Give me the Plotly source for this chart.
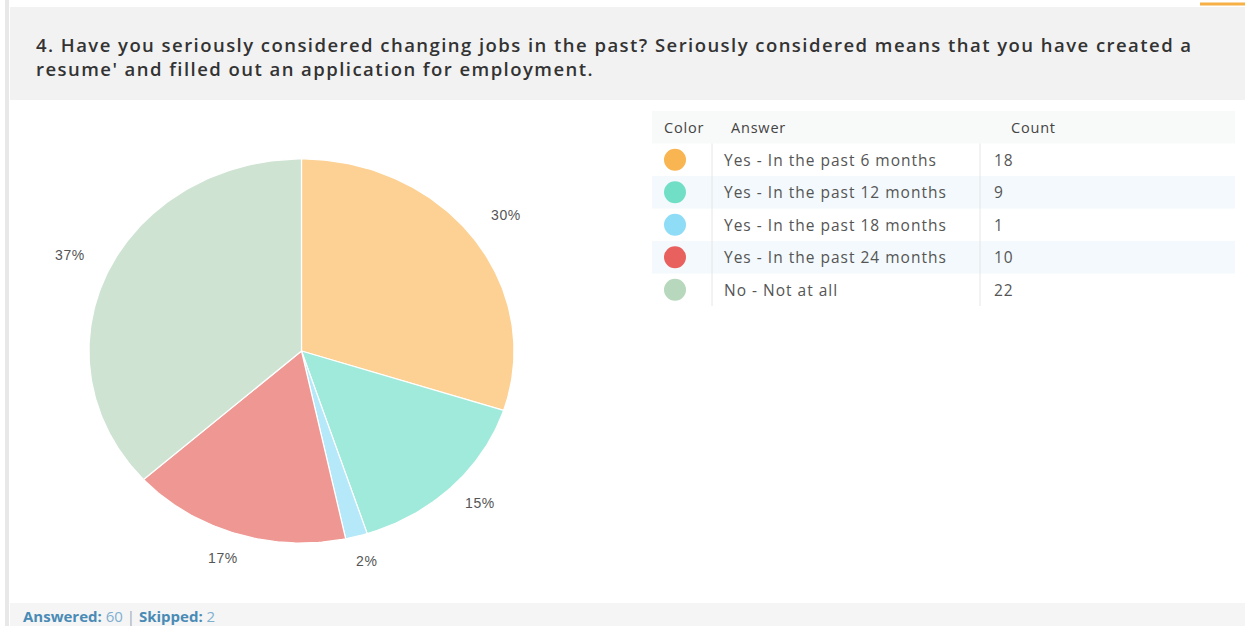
import numpy as np
import plotly.graph_objects as go

# Survey question 4 results
question_lines = ["4. Have you seriously considered changing jobs in the past? Seriously considered means that you have created a",
                  "resume' and filled out an application for employment."]
answers = ["Yes - In the past 6 months", "Yes - In the past 12 months", "Yes - In the past 18 months",
           "Yes - In the past 24 months", "No - Not at all"]
counts = [18, 9, 1, 10, 22]
answered = 60
skipped = 2

slice_colors = ["#fdd194", "#a0eadb", "#b5e8f8", "#ef9893", "#cfe3d3"]
dot_colors = ["#f8b552", "#71dfc5", "#8fdcf7", "#e8615e", "#b7d8bd"]

W, H = 1245, 626
cx, cy, rx, ry = 301.5, 351.0, 212.5, 192.0


def spaced(text, px):
    return f"<span style='letter-spacing:{px}px'>{text}</span>"


fig = go.Figure()

# pie slices, clockwise from 12 o'clock (drawn in pixel space so the pie can be oval)
total = sum(counts)
fracs = np.array(counts) / total
starts = np.concatenate([[0], np.cumsum(fracs)[:-1]])
for frac, s, col, name in zip(fracs, starts, slice_colors, answers):
    th = np.linspace(s, s + frac, max(int(frac * 400), 4)) * 2 * np.pi
    xs = np.concatenate([[cx], cx + rx * np.sin(th), [cx]])
    ys = np.concatenate([[cy], cy - ry * np.cos(th), [cy]])
    fig.add_trace(go.Scatter(x=xs, y=ys, mode="lines", fill="toself", fillcolor=col,
                             line=dict(color="white", width=1.2), name=name,
                             hoverinfo="name", showlegend=False))

annotations = []
# percentage labels outside the pie
for frac, s in zip(fracs, starts):
    mid = (s + frac / 2) * 2 * np.pi
    annotations.append(dict(x=cx + rx * 1.19 * np.sin(mid), y=cy - ry * 1.16 * np.cos(mid),
                            text=spaced(f"{round(frac * 100)}%", 0.6), showarrow=False, yshift=5,
                            font=dict(family="Liberation Sans, Arial", size=14, color="#555555"),
                            xanchor="center", yanchor="middle"))

shapes = []
# page chrome: left rule, header band, footer band, accent line
shapes.append(dict(type="rect", x0=5, x1=9, y0=0, y1=H, fillcolor="#e8e8e8", line_width=0, layer="below"))
shapes.append(dict(type="rect", x0=10, x1=W, y0=7, y1=100, fillcolor="#f2f2f2", line_width=0, layer="below"))
shapes.append(dict(type="rect", x0=10, x1=W, y0=603, y1=H, fillcolor="#f5f5f5", line_width=0, layer="below"))
shapes.append(dict(type="line", x0=1200, x1=W, y0=4, y1=4, line=dict(color="#f7b046", width=3), layer="below"))

annotations.append(dict(x=34, y=56, text="<br>".join(spaced(t, 1.45) for t in question_lines),
                        showarrow=False, xanchor="left", yanchor="middle", align="left",
                        font=dict(family="Open Sans", size=18.5, color="#333333", weight=600)))

# results table
tx0, tx1 = 652, 1235
row_h = 32.5
head_top = 111
shapes.append(dict(type="rect", x0=tx0, x1=tx1, y0=head_top, y1=head_top + row_h,
                   fillcolor="#f8f9f9", line_width=0, layer="below"))
for i in range(len(answers)):
    top = head_top + row_h * (i + 1)
    if i % 2 == 1:
        shapes.append(dict(type="rect", x0=tx0, x1=tx1, y0=top, y1=top + row_h,
                           fillcolor="#f3f9fc", line_width=0, layer="below"))
body_top = head_top + row_h
body_bot = head_top + row_h * (len(answers) + 1)
for vx in (712, 980):
    shapes.append(dict(type="line", x0=vx, x1=vx, y0=body_top, y1=body_bot,
                       line=dict(color="#e6e6e6", width=1), layer="below"))

hfont = dict(family="Open Sans", size=14.5, color="#444444")
rfont = dict(family="Open Sans", size=15.5, color="#555555")
hy = head_top + row_h / 2
for txt, hx in (("Color", 662), ("Answer", 729), ("Count", 1009)):
    annotations.append(dict(x=hx, y=hy, text=spaced(txt, 0.8), showarrow=False,
                            xanchor="left", yanchor="middle", font=hfont))

for i, (ans, cnt, dc) in enumerate(zip(answers, counts, dot_colors)):
    yc = head_top + row_h * (i + 1.5)
    shapes.append(dict(type="circle", x0=664, x1=686, y0=yc - 11, y1=yc + 11,
                       fillcolor=dc, line_width=0))
    annotations.append(dict(x=722, y=yc, text=spaced(ans, 1.0), showarrow=False,
                            xanchor="left", yanchor="middle", font=rfont))
    annotations.append(dict(x=992, y=yc, text=spaced(str(cnt), 1.0), showarrow=False,
                            xanchor="left", yanchor="middle", font=rfont))

# footer summary
footer = (f"<b>Answered:</b> <span style='color:#7fb0d0'>{answered}</span>"
          f" <span style='color:#9ab'>|</span> <b>Skipped:</b> "
          f"<span style='color:#7fb0d0'>{skipped}</span>")
annotations.append(dict(x=21, y=616, showarrow=False, xanchor="left", yanchor="middle",
                        text=footer, font=dict(family="Open Sans", size=15, color="#4a8bb5")))

fig.update_layout(
    width=W, height=H, margin=dict(l=0, r=0, t=0, b=0),
    paper_bgcolor="white", plot_bgcolor="white",
    xaxis=dict(range=[0, W], visible=False, fixedrange=True),
    yaxis=dict(range=[H, 0], visible=False, fixedrange=True),
    shapes=shapes, annotations=annotations, showlegend=False,
)

fig.write_html("out.html")
